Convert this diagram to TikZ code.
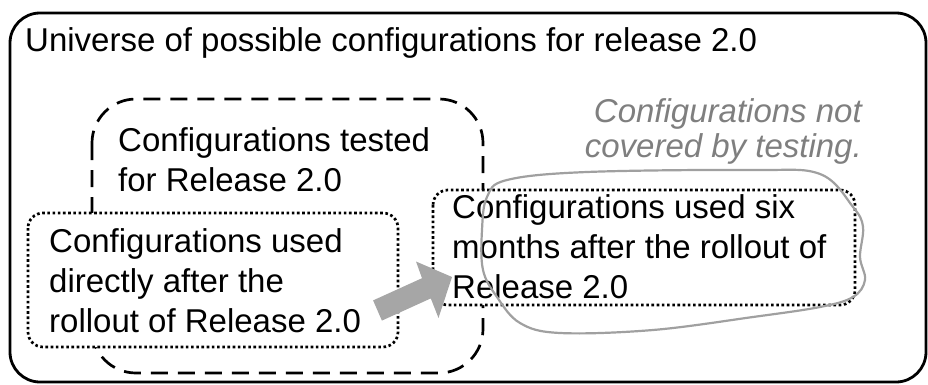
\documentclass[tikz,border=0pt]{standalone}
\usepackage{fontspec}
\setmainfont{Liberation Sans}
\definecolor{notegray}{HTML}{7F7F7F}
\definecolor{loopgray}{HTML}{A0A0A0}
\definecolor{arrowgray}{HTML}{A6A6A6}
\newcommand\leftlines[1]{\vtop{\halign{##\hfil\cr#1\crcr}}}
\newcommand\rightlines[1]{\vtop{\halign{\hfil##\cr#1\crcr}}}
\begin{document}
\begin{tikzpicture}[x=1pt,y=-1pt,
  lbl/.style={font=\fontsize{33}{40}\selectfont, inner sep=0pt, anchor=base west},
  note/.style={font=\fontsize{33}{35}\selectfont\itshape, text=notegray, inner sep=0pt, anchor=base east},
  outerbox/.style={line width=2.8pt, rounded corners=30pt},
  testbox/.style={line width=2.7pt, dash pattern=on 17pt off 10pt, rounded corners=44pt},
  usebox/.style={line width=2.7pt, dash pattern=on 2.6pt off 2.6pt, rounded corners=15pt, fill=white},
  freeloop/.style={draw=loopgray, line width=2.2pt}]
\useasboundingbox (0,0) rectangle (928,385);
\draw[outerbox] (10,13) rectangle (926,382);
\draw[testbox] (92,99) rectangle (483,373);
\draw[usebox] (28,213) rectangle (398,347);
\draw[usebox] (433,190) rectangle (855,305);
\node[lbl] (title) at (25,52) {Universe of possible configurations for release 2.0};
\node[lbl] (tested) at (118,151) {\leftlines{Configurations tested\cr for Release 2.0}};
\node[lbl] (direct) at (49,252) {\leftlines{Configurations used\cr directly after the\cr rollout of Release 2.0}};
\node[lbl] (six) at (452,218) {\leftlines{Configurations used six\cr months after the rollout of\cr Release 2.0}};
\node[note] (notcov) at (862,122) {\rightlines{Configurations not\cr covered by testing.}};
\draw[freeloop] plot[smooth cycle, tension=0.6] coordinates {(507,180) (587,172) (753,170) (820,174) (853,207) (863,227) (860,257) (865,280) (853,297) (820,307) (753,317) (653,330) (560,333) (520,323) (497,297) (483,270) (482,230) (487,197)};
\coordinate (tailA) at (373.1,300.4);
\coordinate (tailB) at (381.9,320.6);
\coordinate (tip) at (452,277);
\fill[arrowgray] (tailA) -- (422,278.2) -- (416,261.5) -- (tip) -- (438.5,318) -- (430.8,298.4) -- (tailB) -- cycle;
\end{tikzpicture}
\end{document}
